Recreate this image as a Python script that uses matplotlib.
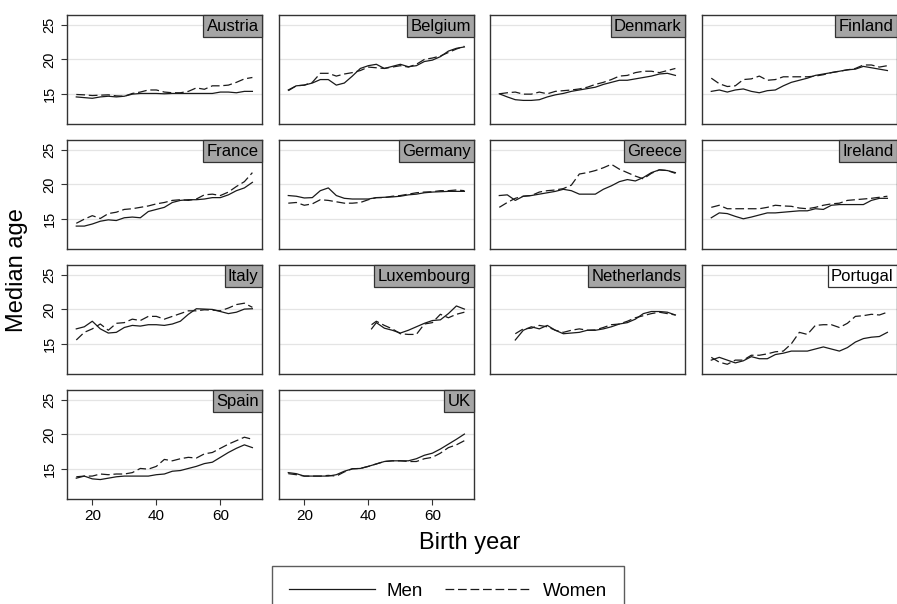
import matplotlib
matplotlib.use("Agg")
import matplotlib.pyplot as plt

plt.rcParams['font.family'] = ['Liberation Sans', 'DejaVu Sans']

# birth years (19xx)
years = [15, 17.5, 20, 22.5, 25, 27.5, 30, 32.5, 35, 37.5, 40, 42.5, 45,
         47.5, 50, 52.5, 55, 57.5, 60, 62.5, 65, 67.5, 70]
years_nl = years[2:]
years_lu = [41, 42.5, 45, 47.5, 50, 52.5, 55, 57.5, 60, 62.5, 65, 67.5, 70]

austria_men = [14.6, 14.5, 14.4, 14.6, 14.7, 14.6, 14.7, 15.0, 15.1, 15.1, 15.1, 15.05,
               15.1, 15.1, 15.1, 15.1, 15.1, 15.1, 15.3, 15.3, 15.2, 15.4, 15.4]
austria_women = [14.95, 14.9, 14.8, 14.85, 14.9, 14.75, 14.7, 15.1, 15.3, 15.6, 15.6, 15.3,
                 15.2, 15.2, 15.4, 15.9, 15.7, 16.2, 16.2, 16.3, 16.7, 17.2, 17.4]
belgium_men = [15.6, 16.2, 16.3, 16.6, 17.1, 17.1, 16.3, 16.6, 17.6, 18.7, 19.1, 19.3,
               18.7, 19.0, 19.3, 18.95, 19.1, 19.7, 19.9, 20.4, 21.2, 21.6, 21.8]
belgium_women = [15.5, 16.2, 16.3, 16.7, 18.0, 18.0, 17.6, 17.9, 18.1, 18.4, 18.9, 18.8,
                 18.7, 18.9, 19.1, 18.9, 19.3, 20.0, 20.2, 20.5, 21.0, 21.5, 21.9]
denmark_men = [15.05, 14.6, 14.2, 14.1, 14.1, 14.2, 14.6, 14.9, 15.1, 15.4, 15.6, 15.8,
               16.0, 16.4, 16.7, 17.0, 17.0, 17.2, 17.4, 17.6, 17.9, 18.0, 17.7]
denmark_women = [15.05, 15.2, 15.3, 15.0, 15.0, 15.3, 15.05, 15.4, 15.5, 15.6, 15.75, 16.0,
                 16.4, 16.7, 17.1, 17.6, 17.7, 18.1, 18.3, 18.3, 18.1, 18.4, 18.7]
finland_men = [15.4, 15.6, 15.3, 15.6, 15.75, 15.4, 15.2, 15.5, 15.6, 16.2, 16.7, 17.0,
               17.3, 17.7, 17.9, 18.1, 18.3, 18.5, 18.6, 19.0, 18.8, 18.6, 18.4]
finland_women = [17.3, 16.5, 16.1, 16.2, 17.1, 17.2, 17.6, 17.0, 17.1, 17.5, 17.5, 17.5,
                 17.5, 17.6, 17.8, 18.1, 18.3, 18.5, 18.7, 19.2, 19.2, 18.9, 19.1]
france_men = [14.0, 14.0, 14.3, 14.7, 14.9, 14.8, 15.2, 15.3, 15.2, 16.1, 16.4, 16.7,
              17.4, 17.7, 17.8, 17.8, 17.9, 18.1, 18.1, 18.5, 19.1, 19.5, 20.3]
france_women = [14.4, 15.0, 15.5, 15.1, 15.8, 16.0, 16.4, 16.5, 16.7, 16.9, 17.2, 17.4,
                17.7, 17.8, 17.7, 17.9, 18.5, 18.6, 18.4, 18.9, 19.7, 20.4, 21.7]
germany_men = [18.4, 18.3, 18.05, 18.1, 19.1, 19.5, 18.4, 18.0, 17.9, 17.9, 17.9, 18.1,
               18.15, 18.2, 18.3, 18.5, 18.6, 18.8, 18.9, 18.95, 19.0, 19.0, 19.0]
germany_women = [17.3, 17.4, 17.0, 17.2, 17.8, 17.7, 17.5, 17.3, 17.3, 17.4, 17.8, 18.1,
                 18.1, 18.3, 18.4, 18.6, 18.8, 18.9, 18.95, 19.1, 19.1, 19.2, 19.1]
greece_men = [18.4, 18.5, 17.7, 18.3, 18.4, 18.6, 18.8, 19.0, 19.3, 19.1, 18.6, 18.6,
              18.6, 19.3, 19.8, 20.4, 20.7, 20.5, 21.0, 21.7, 22.1, 22.0, 21.7]
greece_women = [16.7, 17.4, 18.0, 18.3, 18.4, 18.9, 19.1, 19.2, 19.4, 19.9, 21.5, 21.7,
                22.0, 22.4, 22.9, 22.2, 21.7, 21.2, 20.8, 21.6, 22.1, 22.0, 21.6]
ireland_men = [15.2, 15.9, 15.8, 15.4, 15.05, 15.3, 15.6, 15.9, 15.9, 16.0, 16.1, 16.2,
               16.2, 16.5, 16.4, 17.0, 17.1, 17.1, 17.1, 17.1, 17.7, 18.0, 18.0]
ireland_women = [16.7, 17.0, 16.5, 16.5, 16.5, 16.5, 16.5, 16.7, 17.0, 16.9, 16.85, 16.6,
                 16.5, 16.7, 17.0, 17.2, 17.3, 17.7, 17.8, 17.9, 18.0, 18.15, 18.3]
italy_men = [17.2, 17.5, 18.3, 17.2, 16.6, 16.7, 17.4, 17.7, 17.6, 17.8, 17.8, 17.7,
             17.9, 18.3, 19.3, 20.1, 20.05, 20.0, 19.7, 19.4, 19.6, 20.05, 20.1]
italy_women = [15.6, 16.7, 17.2, 17.9, 17.0, 18.0, 18.1, 18.6, 18.4, 19.0, 19.0, 18.6,
               19.0, 19.4, 19.8, 19.8, 19.95, 19.9, 19.8, 20.2, 20.7, 20.9, 20.3]
luxembourg_men = [17.2, 18.1, 17.3, 17.0, 16.6, 17.0, 17.5, 18.0, 18.4, 18.5, 19.4, 20.5, 20.05]
luxembourg_women = [17.8, 18.3, 17.7, 17.2, 16.5, 16.4, 16.4, 17.9, 18.1, 19.3, 18.8, 19.3, 19.6]
netherlands_men = [15.6, 17.0, 17.5, 17.2, 17.7, 17.0, 16.5, 16.6, 16.7, 17.0, 17.0,
                   17.2, 17.5, 17.9, 18.1, 18.6, 19.4, 19.7, 19.7, 19.6, 19.2]
netherlands_women = [16.5, 17.2, 17.3, 17.7, 17.5, 17.0, 16.7, 17.0, 17.2, 17.0, 17.05,
                     17.4, 17.8, 17.9, 18.3, 18.8, 19.1, 19.4, 19.6, 19.4, 19.2]
portugal_men = [12.7, 13.1, 12.7, 12.3, 12.6, 13.2, 12.9, 12.9, 13.5, 13.7, 14.0, 14.0,
                14.0, 14.3, 14.6, 14.3, 14.0, 14.5, 15.3, 15.8, 16.0, 16.1, 16.7]
portugal_women = [13.1, 12.4, 12.1, 12.7, 12.7, 13.4, 13.4, 13.6, 13.9, 14.0, 15.05, 16.7,
                  16.4, 17.7, 17.8, 17.8, 17.4, 18.0, 19.0, 19.1, 19.3, 19.2, 19.6]
spain_men = [13.7, 14.0, 13.6, 13.5, 13.7, 13.9, 14.0, 14.0, 14.0, 14.0, 14.2, 14.3,
             14.7, 14.8, 15.1, 15.4, 15.8, 16.0, 16.7, 17.4, 18.0, 18.5, 18.1]
spain_women = [13.9, 14.0, 14.0, 14.3, 14.2, 14.3, 14.3, 14.5, 15.1, 15.0, 15.4, 16.4,
               16.2, 16.5, 16.7, 16.6, 17.2, 17.4, 18.0, 18.6, 19.1, 19.6, 19.3]
uk_men = [14.5, 14.35, 14.0, 14.0, 14.0, 14.0, 14.2, 14.7, 15.05, 15.1, 15.4, 15.75,
          16.1, 16.2, 16.2, 16.2, 16.5, 17.0, 17.3, 17.9, 18.6, 19.3, 20.05]
uk_women = [14.35, 14.2, 14.0, 14.0, 14.0, 14.1, 14.0, 14.6, 15.05, 15.1, 15.4, 15.75,
            16.1, 16.2, 16.2, 16.1, 16.1, 16.5, 16.7, 17.3, 18.1, 18.5, 19.1]

countries = ["Austria", "Belgium", "Denmark", "Finland", "France", "Germany",
             "Greece", "Ireland", "Italy", "Luxembourg", "Netherlands", "Portugal",
             "Spain", "UK"]
panels = {
    "Austria": (years, austria_men, austria_women),
    "Belgium": (years, belgium_men, belgium_women),
    "Denmark": (years, denmark_men, denmark_women),
    "Finland": (years, finland_men, finland_women),
    "France": (years, france_men, france_women),
    "Germany": (years, germany_men, germany_women),
    "Greece": (years, greece_men, greece_women),
    "Ireland": (years, ireland_men, ireland_women),
    "Italy": (years, italy_men, italy_women),
    "Luxembourg": (years_lu, luxembourg_men, luxembourg_women),
    "Netherlands": (years_nl, netherlands_men, netherlands_women),
    "Portugal": (years, portugal_men, portugal_women),
    "Spain": (years, spain_men, spain_women),
    "UK": (years, uk_men, uk_women),
}

W, H = 897, 604
fig = plt.figure(figsize=(W / 100, H / 100), dpi=100)
col_left = [67, 279, 490, 702]
row_top = [15, 140, 265, 390]
pw, ph = 195, 109

for i, name in enumerate(countries):
    r, c = divmod(i, 4)
    ax = fig.add_axes([col_left[c] / W, 1 - (row_top[r] + ph) / H, pw / W, ph / H])
    x, men, women = panels[name]
    ax.plot(x, men, color="#1a1a1a", lw=0.9, label="Men")
    ax.plot(x, women, color="#1a1a1a", lw=0.9, ls=(0, (7, 3)), label="Women")
    ax.set_xlim(12.1, 73)
    ax.set_ylim(10.7, 26.4)
    ax.set_yticks([15, 20, 25])
    ax.set_xticks([20, 40, 60])
    ax.grid(axis="y", color="#e4e4e4", lw=0.9)
    ax.set_axisbelow(True)
    for s in ax.spines.values():
        s.set_color("#333333")
        s.set_linewidth(1.0)
    if c == 0:
        ax.tick_params(axis="y", labelsize=10.5, length=4, color="#333333")
        for t in ax.get_yticklabels():
            t.set_rotation(90)
            t.set_va("center")
    else:
        ax.tick_params(axis="y", left=False, labelleft=False)
    if name in ("Spain", "UK"):
        ax.tick_params(axis="x", labelsize=11, length=4, color="#333333")
    else:
        ax.tick_params(axis="x", bottom=False, labelbottom=False)
    fc = "white" if name == "Portugal" else "#a5a5a5"
    ax.annotate(name, xy=(1, 1), xycoords="axes fraction", xytext=(-2.4, -2.6),
                textcoords="offset points", ha="right", va="top", fontsize=12,
                bbox=dict(boxstyle="square,pad=0.2", fc=fc, ec="#333333", lw=0.9))
    if i == 0:
        handles = ax.get_lines()

fig.text(17 / W, 1 - 270 / H, "Median age", rotation=90, ha="center", va="center", fontsize=17)
fig.text(470 / W, 1 - 543 / H, "Birth year", ha="center", va="center", fontsize=17)

# legend box runs off the bottom edge, as in the source graph
leg = fig.legend(handles, ["Men", "Women"], loc="upper center",
                 bbox_to_anchor=(448 / W, 1 - 566 / H), ncol=2, fontsize=13.5,
                 handlelength=4.6, handletextpad=0.6, columnspacing=1.2,
                 frameon=True, fancybox=False, borderpad=0.9, borderaxespad=0)
leg.get_frame().set_edgecolor("#333333")
leg.get_frame().set_linewidth(1.0)

fig.savefig("out.png", dpi=100)
